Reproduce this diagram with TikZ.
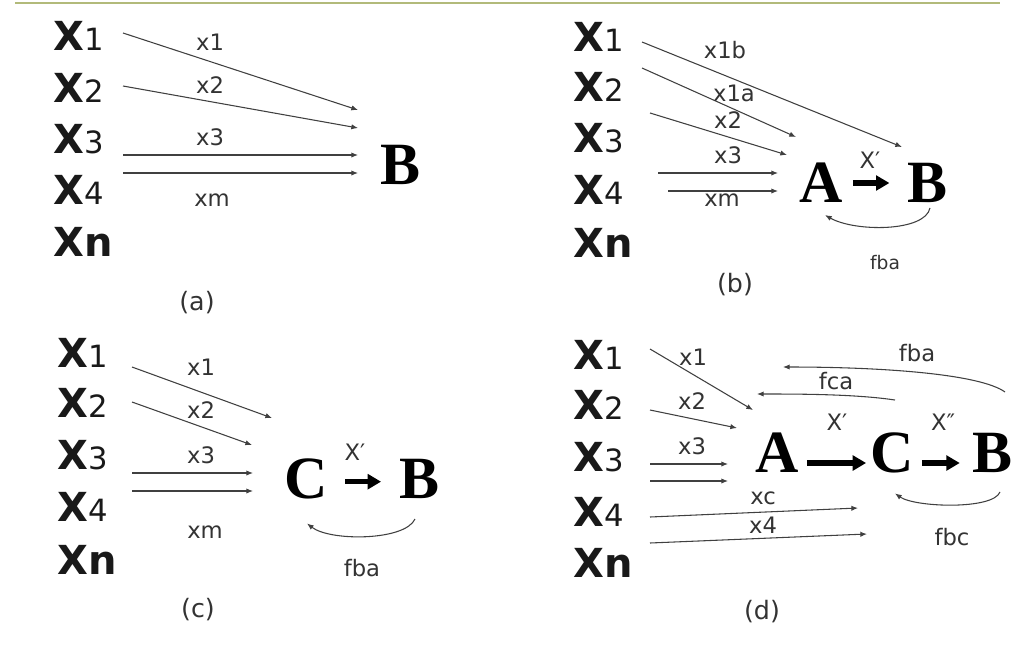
\documentclass[tikz,border=0pt]{standalone}
\usepackage{fontspec}
\setmainfont{DejaVu Sans}
\newfontfamily\bigserif{Liberation Serif}
\usetikzlibrary{arrows.meta}
\definecolor{slideline}{RGB}{178,186,122}

\newcommand{\xvar}[1]{{\fontsize{30}{30}\selectfont\bfseries X}{\fontsize{23}{23}\selectfont #1}}
\newcommand{\xlast}{{\fontsize{30}{30}\selectfont\bfseries Xn}}

\begin{document}
\begin{tikzpicture}[x=0.75pt, y=-0.75pt, font={\fontsize{17}{17}\selectfont},
  var/.style={anchor=west, inner sep=0pt, text=black!90},
  big/.style={inner sep=0pt, font={\bigserif\bfseries\fontsize{45}{45}\selectfont}},
  lab/.style={inner sep=0pt, text=black!80},
  panelcap/.style={inner sep=0pt, font={\fontsize{19}{19}\selectfont}, text=black!80},
  arr/.style={-{Latex[length=5pt,width=4pt]}, line width=0.8pt, draw=black!75},
  fat/.style={-{Triangle[length=10pt,width=11pt]}, line width=4pt},
  topline/.style={line width=2.2pt, draw=slideline}]
\useasboundingbox (0,0) rectangle (1013,657);
\draw[topline] (15,3) -- (1000,3);

% (a)
\node[var] (a1) at (53,36) {\xvar{1}};
\node[var] (a2) at (53,88) {\xvar{2}};
\node[var] (a3) at (53,139) {\xvar{3}};
\node[var] (a4) at (53,190) {\xvar{4}};
\node[var] (an) at (53,242) {\xlast};
\node[big] (aB) at (401,165) {B};
\coordinate (a1t) at (123,33);  \coordinate (a1h) at (358,110);
\coordinate (a2t) at (123,86);  \coordinate (a2h) at (358,128);
\coordinate (a3t) at (123,155); \coordinate (a3h) at (358,155);
\coordinate (a4t) at (123,173); \coordinate (a4h) at (358,173);
\draw[arr] (a1t) -- (a1h); \draw[arr] (a2t) -- (a2h);
\draw[arr] (a3t) -- (a3h); \draw[arr] (a4t) -- (a4h);
\node[lab] (ax1) at (210,42) {x1};
\node[lab] (ax2) at (210,85) {x2};
\node[lab] (ax3) at (210,137) {x3};
\node[lab] (axm) at (212,200) {xm};
\node[panelcap] (acap) at (197,303) {(a)};

% (b)
\node[var] (b1) at (573,37) {\xvar{1}};
\node[var] (b2) at (573,87) {\xvar{2}};
\node[var] (b3) at (573,138) {\xvar{3}};
\node[var] (b4) at (573,190) {\xvar{4}};
\node[var] (bn) at (573,243) {\xlast};
\node[big] (bA) at (821,183) {A};
\node[big] (bB) at (927,183) {B};
\coordinate (b1t) at (642,42);  \coordinate (b1h) at (902,147);
\coordinate (b2t) at (642,68);  \coordinate (b2h) at (796,137);
\coordinate (b3t) at (650,113); \coordinate (b3h) at (787,155);
\coordinate (b4t) at (658,173); \coordinate (b4h) at (778,173);
\coordinate (b5t) at (668,191); \coordinate (b5h) at (778,191);
\draw[arr] (b1t) -- (b1h); \draw[arr] (b2t) -- (b2h); \draw[arr] (b3t) -- (b3h);
\draw[arr] (b4t) -- (b4h); \draw[arr] (b5t) -- (b5h);
\draw[fat] (bA.east) -- (bB.west) [shorten <=7.5pt, shorten >=13pt];
\draw[arr] ([shift={(3,5)}]bB.south) .. controls +(-5,24) and +(30,17) .. ([shift={(4,12)}]bA.south);
\node[lab] (bx1b) at (725,50) {x1b};
\node[lab] (bx1a) at (734,93) {x1a};
\node[lab] (bx2) at (728,120) {x2};
\node[lab] (bx3) at (728,155) {x3};
\node[lab] (bxm) at (722,200) {xm};
\node[lab] (bxp) at (870,160) {X′};
\node[lab, font={\fontsize{14}{14}\selectfont}] (bfba) at (885,263) {fba};
\node[panelcap] (bcap) at (735,285) {(b)};

% (c)
\node[var] (c1) at (57,353) {\xvar{1}};
\node[var] (c2) at (57,403) {\xvar{2}};
\node[var] (c3) at (57,455) {\xvar{3}};
\node[var] (c4) at (57,507) {\xvar{4}};
\node[var] (cn) at (57,560) {\xlast};
\node[big] (cC) at (306,479) {C};
\node[big] (cB) at (420,479) {B};
\coordinate (c1t) at (132,367); \coordinate (c1h) at (272,418);
\coordinate (c2t) at (132,402); \coordinate (c2h) at (252,445);
\coordinate (c3t) at (132,473); \coordinate (c3h) at (253,473);
\coordinate (c4t) at (132,491); \coordinate (c4h) at (253,491);
\draw[arr] (c1t) -- (c1h); \draw[arr] (c2t) -- (c2h);
\draw[arr] (c3t) -- (c3h); \draw[arr] (c4t) -- (c4h);
\draw[fat] ([yshift=-2pt]cC.east) -- ([yshift=-2pt]cB.west) [shorten <=13pt, shorten >=14pt];
\draw[arr] ([shift={(-5,20)}]cB.south) .. controls +(-10,22) and +(23,18) .. ([shift={(1,24)}]cC.south);
\node[lab] (cx1) at (201,367) {x1};
\node[lab] (cx2) at (201,410) {x2};
\node[lab] (cx3) at (201,455) {x3};
\node[lab] (cxm) at (205,532) {xm};
\node[lab] (cxp) at (355,452) {X′};
\node[lab] (cfba) at (362,568) {fba};
\node[panelcap] (ccap) at (198,610) {(c)};

% (d)
\node[var] (d1) at (573,355) {\xvar{1}};
\node[var] (d2) at (573,405) {\xvar{2}};
\node[var] (d3) at (573,457) {\xvar{3}};
\node[var] (d4) at (573,512) {\xvar{4}};
\node[var] (dn) at (573,563) {\xlast};
\node[big] (dA) at (777,453) {A};
\node[big] (dC) at (892,453) {C};
\node[big] (dB) at (992,453) {B};
\coordinate (d1t) at (650,349); \coordinate (d1h) at (753,410);
\coordinate (d2t) at (650,410); \coordinate (d2h) at (737,428);
\coordinate (d3t) at (650,464); \coordinate (d3h) at (728,464);
\coordinate (d4t) at (650,481); \coordinate (d4h) at (728,481);
\coordinate (d5t) at (650,517); \coordinate (d5h) at (858,508);
\coordinate (d6t) at (650,543); \coordinate (d6h) at (867,534);
\draw[arr] (d1t) -- (d1h); \draw[arr] (d2t) -- (d2h); \draw[arr] (d3t) -- (d3h);
\draw[arr] (d4t) -- (d4h); \draw[arr] (d5t) -- (d5h); \draw[arr] (d6t) -- (d6h);
\draw[fat] ([yshift=-7.5pt]dA.east) -- ([yshift=-7.5pt]dC.west) [shorten <=6pt, shorten >=3pt];
\draw[fat] ([yshift=-7.5pt]dC.east) -- ([yshift=-7.5pt]dB.west) [shorten <=6pt, shorten >=9pt];
\coordinate (dbat) at (1005,392); \coordinate (dbah) at (783,367);
\coordinate (dcat) at (895,400);  \coordinate (dcah) at (757,394);
\draw[arr] (dbat) .. controls +(-25,-18) and +(100,0) .. (dbah);
\draw[arr] (dcat) .. controls +(-40,-6) and +(40,0) .. (dcah);
\draw[arr] ([shift={(8,19)}]dB.south) .. controls +(-7,18) and +(20,14) .. ([shift={(3,20)}]dC.south);
\node[lab] (dx1) at (693,357) {x1};
\node[lab] (dx2) at (692,401) {x2};
\node[lab] (dx3) at (692,446) {x3};
\node[lab] (dxc) at (763,498) {xc};
\node[lab] (dx4) at (763,525) {x4};
\node[lab] (dfba) at (917,353) {fba};
\node[lab] (dfca) at (836,381) {fca};
\node[lab] (dxp) at (837,422) {X′};
\node[lab] (dxpp) at (943,422) {X″};
\node[lab] (dfbc) at (952,537) {fbc};
\node[panelcap] (dcap) at (762,612) {(d)};
\end{tikzpicture}
\end{document}
